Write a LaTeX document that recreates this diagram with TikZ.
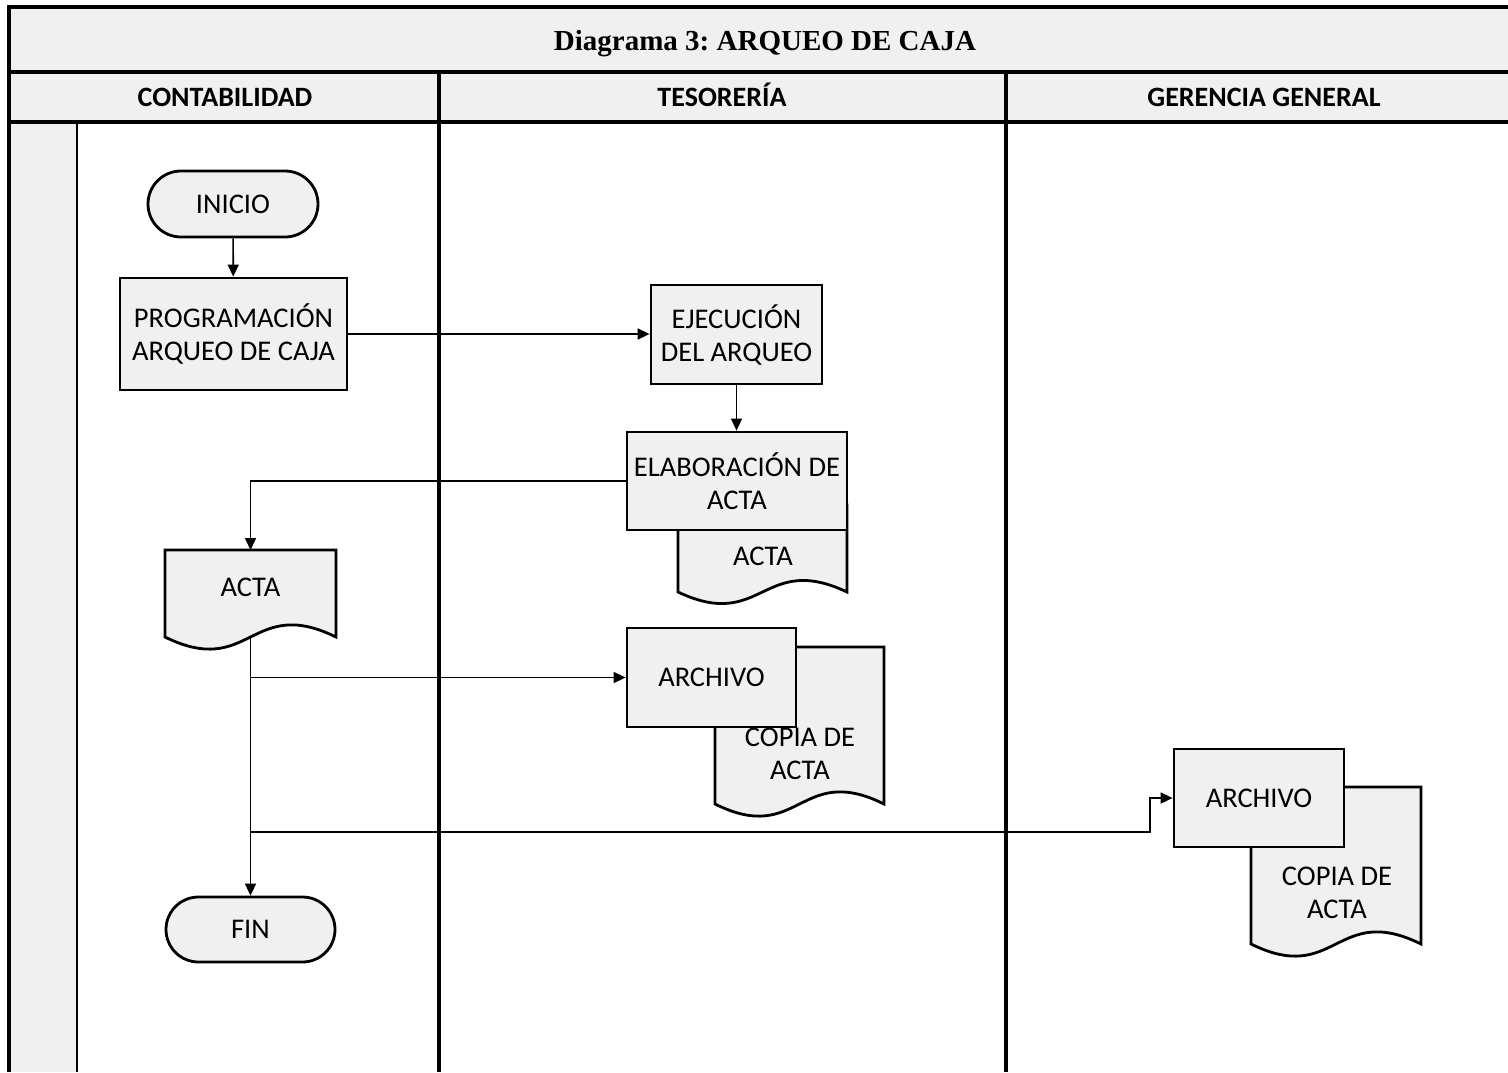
\documentclass[tikz,border=0pt]{standalone}
\usepackage{fontspec}
\setmainfont{Carlito}
\newfontfamily\titlefont{Liberation Serif}
\usetikzlibrary{arrows.meta,calc,shapes.misc}
\definecolor{boxgray}{HTML}{F0F0F0}
\frenchspacing

% Document symbol: name, left, top, right, bottom (wave ends), wave amplitude
\newcommand{\docshape}[6]{%
  \node[inner sep=0pt, outer sep=0pt, minimum width={#4-#2}, minimum height={#5-#3}]
    (#1) at ({(#2+#4)/2},{(#3+#5)/2}) {};
  \filldraw[docline] (#1.north west) -- (#1.north east) -- (#1.south east)
    .. controls ($(#1.south)+(0,-#6)$) and ($(#1.south)+(0,#6)$) .. (#1.south west) -- cycle;
}

\begin{document}
\begin{tikzpicture}[x=1pt,y=-1pt,
  every node/.style={font=\fontsize{28.5}{33}\selectfont},
  box/.style={draw, line width=2.8pt, fill=boxgray, inner sep=0pt, align=center},
  term/.style={rounded rectangle, draw, line width=2.8pt, fill=boxgray, inner sep=0pt},
  docline/.style={draw, line width=2.8pt, fill=boxgray, line join=miter},
  doctext/.style={align=center, inner sep=0pt},
  header/.style={font=\bfseries\fontsize{28}{32}\selectfont, anchor=base},
  flow/.style={line width=1.6pt, -{Triangle[length=12pt,width=11pt]}},
  lane/.style={line width=3.3pt}
]
\useasboundingbox (0,0) rectangle (1508,1072);

% Frame, title row, lane headers and side strip
\fill[boxgray] (9,7) rectangle (1508,122);
\fill[boxgray] (9,122) rectangle (77,1072);
\draw[lane] (1508,7) -- (9,7) -- (9,1072);
\draw[lane] (9,72) -- (1508,72);
\draw[lane] (9,122) -- (1508,122);
\draw[line width=2.2pt] (77,122) -- (77,1072);
\draw[lane] (439,72) -- (439,1072);
\draw[lane] (1006,72) -- (1006,1072);

\node[font=\titlefont\bfseries\fontsize{29}{34}\selectfont, anchor=base] (title) at (765,50) {Diagrama 3: ARQUEO DE CAJA};
\node[header] (hcont) at (225,106) {CONTABILIDAD};
\node[header] (htes) at (722,106) {TESORERÍA};
\node[header] (hger) at (1264,106) {GERENCIA GENERAL};

% Contabilidad
\node[term, minimum width=170pt, minimum height=66pt] (inicio) at (233,204) {INICIO};
\node[box, minimum width=227pt, minimum height=112pt] (prog) at (233.5,334) {PROGRAMACIÓN\\ARQUEO DE CAJA};

% Tesorería
\node[box, minimum width=171pt, minimum height=99pt] (ejec) at (736.5,334.5) {EJECUCIÓN\\DEL ARQUEO};
\docshape{actaT}{678}{505}{847}{592}{40}
\node[doctext] (actaTt) at (763,556) {ACTA};
\node[box, minimum width=220pt, minimum height=98pt] (elab) at (737,481) {ELABORACIÓN DE\\ACTA};

% Contabilidad: received record
\docshape{actaL}{165}{550}{336}{637}{42}
\node[doctext] (actaLt) at (250.5,587) {ACTA};

% Tesorería: filing
\docshape{copia1}{715}{647}{884}{804}{42}
\node[doctext] (copia1t) at (800,754) {COPIA DE\\ACTA};
\node[box, minimum width=169pt, minimum height=99pt] (archivo1) at (711.5,677.5) {ARCHIVO};

% Gerencia general: filing
\docshape{copia2}{1251}{787}{1421}{944}{42}
\node[doctext] (copia2t) at (1337,893) {COPIA DE\\ACTA};
\node[box, minimum width=170pt, minimum height=98pt] (archivo2) at (1259,798) {ARCHIVO};

% End
\node[term, minimum width=169pt, minimum height=65pt] (fin) at (250.5,929.5) {FIN};

% Connectors
\coordinate (j1) at (actaL.south |- archivo1.west);
\coordinate (j2) at (250.5,832);
\coordinate (bend) at (1150,832);

\draw[flow] (inicio) -- (prog);
\draw[flow] (prog.east) -- (prog.east -| ejec.west);
\draw[flow] (ejec.south) -- (ejec.south |- elab.north);
\draw[flow] (elab.west) -| (actaL.north);
\draw[flow] (actaL.south) -- (fin.north);
\draw[flow] (j1) -- (archivo1.west);
\draw[flow] (j2) -- (bend) |- (archivo2.west);
\end{tikzpicture}
\end{document}
